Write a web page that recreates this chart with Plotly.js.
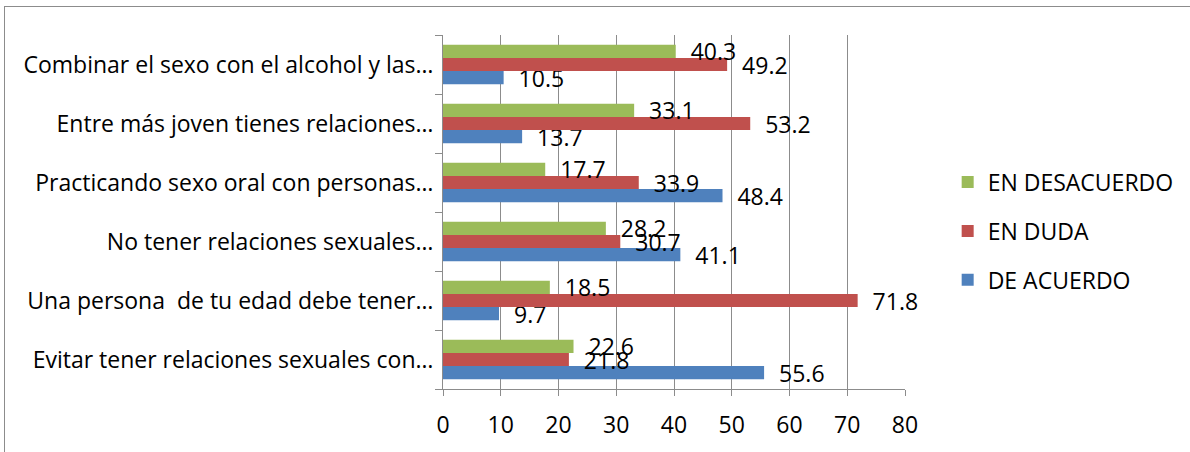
<!DOCTYPE html>
<html>
<head>
<meta charset="utf-8">
<script src="https://cdn.plot.ly/plotly-3.0.1.min.js"></script>
<style>
  body { margin: 0; background: #ffffff; }
  #chart { position: absolute; left: 0; top: 0; width: 1190px; height: 452px; }
  #frame { position: absolute; left: 4px; top: 6px; width: 1300px; height: 600px;
           border-left: 1.5px solid #8c8c8c; border-top: 1.5px solid #8c8c8c; pointer-events: none; }
</style>
</head>
<body>
<div id="chart"></div>
<div id="frame"></div>
<script>
// Categories listed from bottom to top
const categories = [
  "Evitar tener relaciones sexuales con…",
  "Una persona\u00a0 de tu edad debe tener…",
  "No tener relaciones sexuales…",
  "Practicando sexo oral con personas…",
  "Entre más joven tienes relaciones…",
  "Combinar el sexo con el alcohol y las…"
];
const deAcuerdo    = [55.6, 9.7, 41.1, 48.4, 13.7, 10.5];
const enDuda       = [21.8, 71.8, 30.7, 33.9, 53.2, 49.2];
const enDesacuerdo = [22.6, 18.5, 28.2, 17.7, 33.1, 40.3];
const xTicks = [0, 10, 20, 30, 40, 50, 60, 70, 80];

const FONT = "Open Sans, Noto Sans, sans-serif";
const FS = 23;

function series(name, values, color, rank) {
  return {
    type: "bar",
    orientation: "h",
    name: name,
    legendgroup: name,
    legendrank: rank,
    y: categories,
    x: values,
    marker: { color: color },
    texttemplate: "\u00a0\u00a0%{x}",
    textposition: "outside",
    textangle: 0,
    constraintext: "none",
    cliponaxis: false,
    textfont: { family: FONT, size: FS, color: "#000000" },
    hoverinfo: "x+y+name"
  };
}

const data = [
  series("DE ACUERDO", deAcuerdo, "#4F81BD", 3),
  series("EN DUDA", enDuda, "#C0504D", 2),
  series("EN DESACUERDO", enDesacuerdo, "#9BBB59", 1)
];

const layout = {
  width: 1190,
  height: 452,
  margin: { l: 443, r: 284, t: 35, b: 63, pad: 0 },
  paper_bgcolor: "rgba(0,0,0,0)",
  plot_bgcolor: "rgba(0,0,0,0)",
  font: { family: FONT, size: FS, color: "#000000" },
  barmode: "group",
  bargap: 0.334,
  bargroupgap: 0,
  showlegend: true,
  legend: {
    x: 1.09, xanchor: "left",
    y: 0.446, yanchor: "middle",
    traceorder: "grouped",
    tracegroupgap: 16,
    font: { family: FONT, size: FS, color: "#000000" },
    bgcolor: "rgba(0,0,0,0)"
  },
  xaxis: {
    range: [0, 80],
    tickvals: xTicks,
    ticktext: xTicks.map(String),
    showgrid: true,
    gridcolor: "#8c8c8c",
    gridwidth: 1,
    zeroline: false,
    showline: true,
    linecolor: "#8c8c8c",
    linewidth: 1,
    ticks: "outside",
    ticklen: 6,
    tickcolor: "#8c8c8c",
    ticklabelstandoff: 9,
    tickfont: { family: FONT, size: FS, color: "#000000" },
    fixedrange: true
  },
  yaxis: {
    type: "category",
    categoryorder: "array",
    categoryarray: categories,
    showgrid: false,
    zeroline: false,
    showline: true,
    linecolor: "#8c8c8c",
    linewidth: 1,
    ticks: "outside",
    tickson: "boundaries",
    ticklen: 7,
    tickcolor: "#8c8c8c",
    ticklabelstandoff: 4,
    tickfont: { family: FONT, size: FS, color: "#000000" },
    automargin: false,
    fixedrange: true
  }
};

Plotly.newPlot("chart", data, layout, { displayModeBar: false, staticPlot: true });
</script>
</body>
</html>
